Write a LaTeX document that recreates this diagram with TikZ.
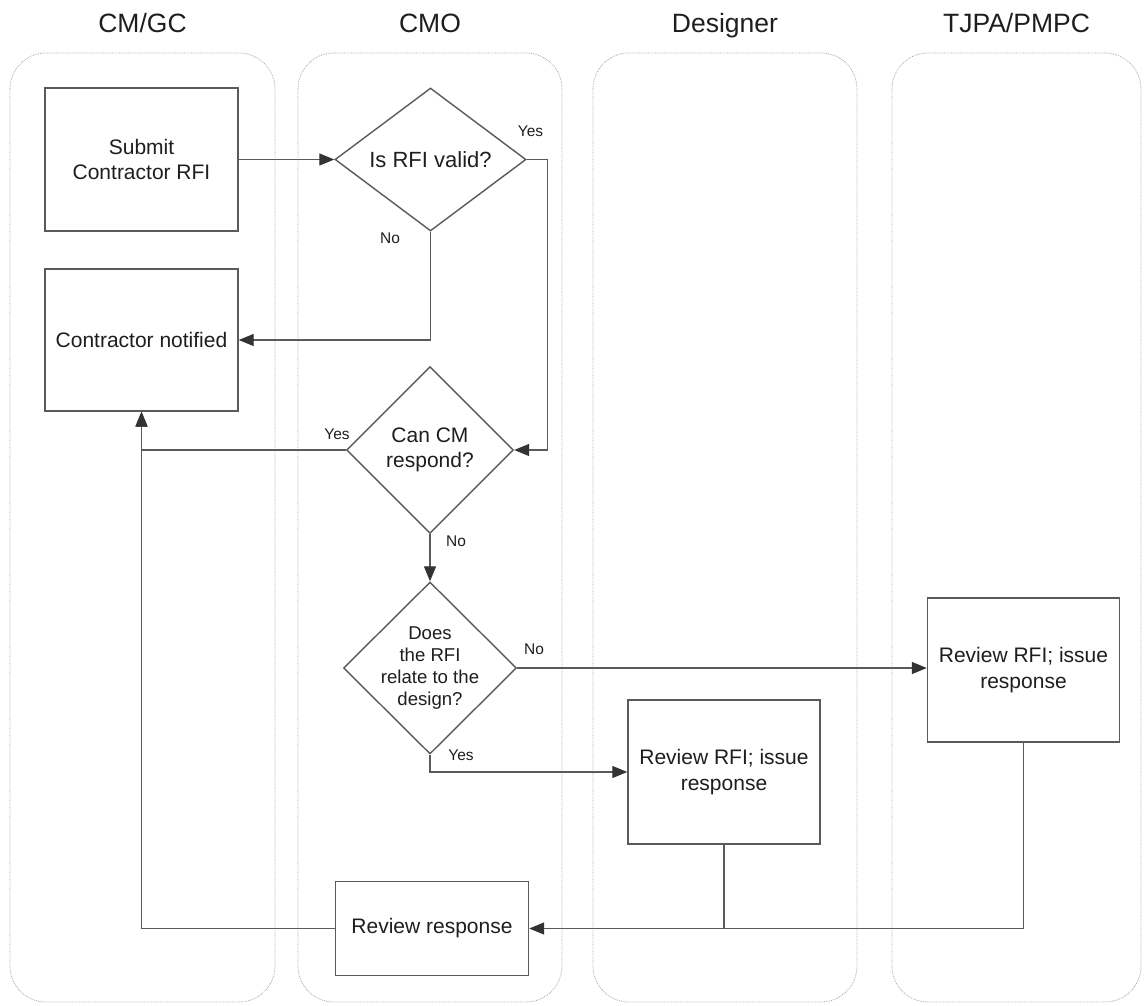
\documentclass[tikz,border=0pt]{standalone}
\usepackage{fontspec}
\setmainfont{Liberation Sans}
\usetikzlibrary{arrows.meta,shapes.geometric}
\definecolor{edge}{HTML}{5A5A5A}
\definecolor{tip}{HTML}{333333}
\definecolor{lanecol}{HTML}{A8A8A8}
\definecolor{ink}{HTML}{1E1E1E}
\begin{document}
\begin{tikzpicture}[x=1pt,y=-1pt,
  lane/.style={draw=lanecol, densely dotted, line width=0.8pt, rounded corners=36pt},
  title/.style={font=\fontsize{26.5}{30}\selectfont, text=ink, inner sep=0pt, anchor=base},
  box/.style={draw=edge, line width=1.4pt, fill=white, align=center, text=ink,
    font=\fontsize{21}{25.5}\selectfont, inner sep=0pt},
  decision/.style={diamond, draw=edge, line width=1.4pt, fill=white, aspect=1, inner sep=0pt},
  dtext/.style={align=center, text=ink, inner sep=0pt},
  flow/.style={draw=edge, line width=1.3pt, -{Triangle[length=15pt,width=12pt,color=tip]}},
  plain/.style={draw=edge, line width=1.3pt},
  tag/.style={font=\fontsize{15.5}{18}\selectfont, text=ink, inner sep=0pt}
]
\useasboundingbox (0,0) rectangle (1144,1005);

% swimlanes
\draw[lane] (10,53) rectangle (275,1002);
\draw[lane] (298,53) rectangle (562,1002);
\draw[lane] (593,53) rectangle (857,1002);
\draw[lane] (892,53) rectangle (1141,1002);

% lane titles
\node[title] (tcm)   at (142.5,32) {CM/GC};
\node[title] (tcmo)  at (430,32)   {CMO};
\node[title] (tdes)  at (725,32)   {Designer};
\node[title] (ttjpa) at (1016.5,32) {TJPA/PMPC};

% process boxes
\node[box, minimum width=193pt, minimum height=143pt] (submit)   at (141.5,159.5) {Submit\\Contractor RFI};
\node[box, minimum width=193pt, minimum height=142pt] (notified) at (141.5,340)   {Contractor notified};
\node[box, minimum width=192pt, minimum height=144pt] (designer) at (724,772)     {Review RFI; issue\\response};
\node[box, minimum width=192pt, minimum height=144pt] (tjpa)     at (1023.5,670)  {Review RFI; issue\\response};
\node[box, minimum width=193pt, minimum height=94pt]  (review)   at (432,928.5)   {Review response};

% decisions
\node[decision, minimum width=191pt, minimum height=143pt] (valid) at (430.5,159.5) {};
\node[decision, minimum width=167pt, minimum height=167pt] (can)   at (430,450)     {};
\node[decision, minimum width=173pt, minimum height=172pt] (does)  at (430,668)     {};
\node[dtext, font=\fontsize{22}{26}\selectfont]   (validtxt) at (valid.center) {Is RFI valid?};
\node[dtext, font=\fontsize{21}{25}\selectfont]   (cantxt)   at (can.center)   {Can CM\\respond?};
\node[dtext, font=\fontsize{18.6}{22.3}\selectfont] (doestxt) at (does.center)  {Does\\the RFI\\relate to the\\design?};

% connectors
\draw[flow] (submit.east) -- (valid.west);
\draw[flow] (valid.east) -- ++(21,0) |- (can.east);
\draw[flow] (valid.south) |- (notified.east);
\draw[flow] (can.west) -| (notified.south);
\draw[flow] (can.south) -- (does.north);
\draw[flow] (does.east) -- (does.east -| tjpa.west);
\draw[flow] (does.south) |- (designer.west);
\draw[plain] (designer.south) -- (designer.south |- review.east);
\draw[flow] (tjpa.south) |- (review.east);
\draw[flow] (review.west) -| (notified.south);

% branch labels
\node[tag] (yes1) at (530.5,131) {Yes};
\node[tag] (no1)  at (390,238)   {No};
\node[tag] (yes2) at (337,434)   {Yes};
\node[tag] (no2)  at (456,541)   {No};
\node[tag] (no3)  at (534,649)   {No};
\node[tag] (yes3) at (461,755)   {Yes};
\end{tikzpicture}
\end{document}
